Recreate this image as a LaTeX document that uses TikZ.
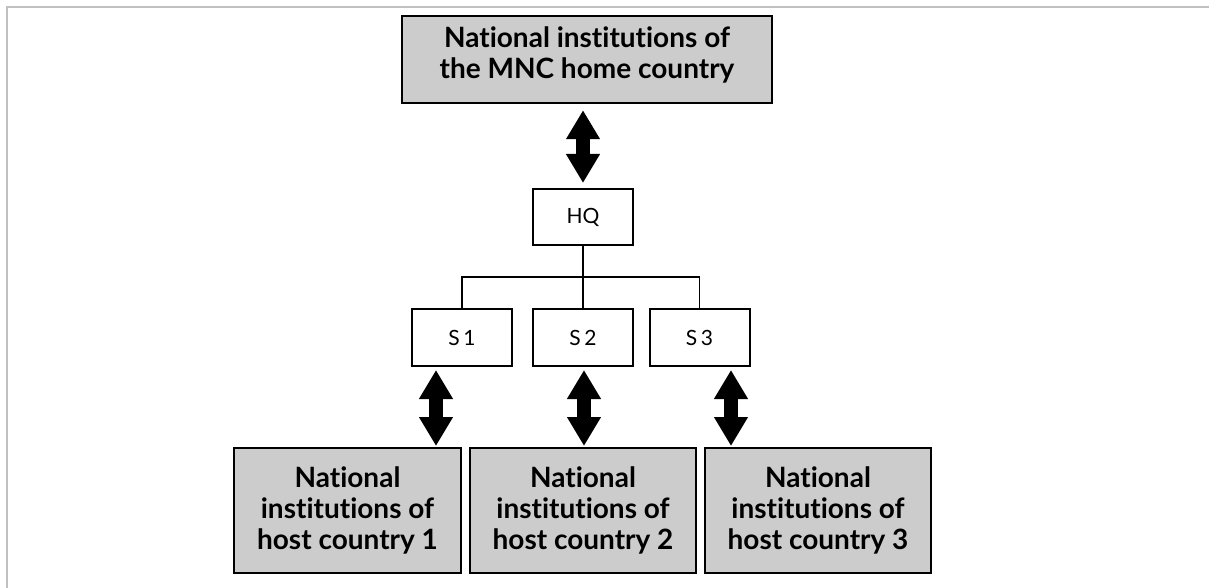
\documentclass[tikz,border=0pt]{standalone}
\usepackage{fontspec}
\setmainfont{Lato}[Ligatures=NoCommon,Contextuals=NoAlternate]
\usetikzlibrary{arrows.meta}
\begin{document}
\begin{tikzpicture}[x=1pt,y=-1pt,
  instbox/.style={draw=black,line width=2pt,fill=boxgray,inner sep=0pt,
    align=center,font=\fontsize{28}{31}\selectfont\bfseries},
  insttext/.style={inner sep=0pt,align=center,font=\fontsize{28}{31}\selectfont\bfseries},
  unitbox/.style={draw=black,line width=2pt,fill=white,inner sep=0pt,
    minimum width=100pt,minimum height=57pt,font=\fontsize{21}{24}\selectfont},
  linkarrow/.style={line width=14pt,
    {Triangle[width=32pt,length=29pt]}-{Triangle[width=32pt,length=29pt]}},
  tree/.style={line width=1.6pt}]
\definecolor{boxgray}{RGB}{204,204,204}
\definecolor{framegray}{RGB}{192,192,192}
\useasboundingbox (0,0) rectangle (1209,588);
% frame lines along top and left edge
\draw[framegray,line width=2pt] (6.5,588) -- (6.5,7) -- (1209,7);

% home-country institutions and headquarters
\node[instbox,minimum width=370pt,minimum height=87pt,line width=2.4pt] (home) at (587,59.5) {};
\node[insttext] (hometitle) at (587,55)
  {National institutions of\\the MNC home country};
\node[unitbox,minimum height=56pt] (hq) at (583,217) {HQ};

% subsidiaries
\node[unitbox] (s1) at (462,337.5) {S\,1};
\node[unitbox] (s2) at (583,337.5) {S\,2};
\node[unitbox] (s3) at (699.5,337.5) {S\,3};

% host-country institutions
\node[instbox,minimum width=227pt,minimum height=125pt] (h1) at (347.5,510.5)
  {National\\institutions of\\host country 1};
\node[instbox,minimum width=226pt,minimum height=125pt] (h2) at (583,510.5)
  {National\\institutions of\\host country 2};
\node[instbox,minimum width=226pt,minimum height=125pt] (h3) at (818,510.5)
  {National\\institutions of\\host country 3};

% organisation tree
\coordinate (bar) at (583,277);
\draw[tree] (hq.south) -- (s2.north);
\draw[tree] (s1.north) -- (s1.north |- bar) -- (s3.north |- bar) -- (s3.north);

% two-way links
\draw[linkarrow,shorten <=6pt,shorten >=5pt] (home.south -| hq.north) -- (hq.north);
\coordinate (a1) at (436,366);
\coordinate (a2) at (584,366);
\coordinate (a3) at (731,366);
\draw[linkarrow,shorten <=3pt,shorten >=1pt] (a1 |- s1.south) -- (a1 |- h1.north);
\draw[linkarrow,shorten <=3pt,shorten >=1pt] (a2 |- s2.south) -- (a2 |- h2.north);
\draw[linkarrow,shorten <=3pt,shorten >=1pt] (a3 |- s3.south) -- (a3 |- h3.north);
\end{tikzpicture}
\end{document}
